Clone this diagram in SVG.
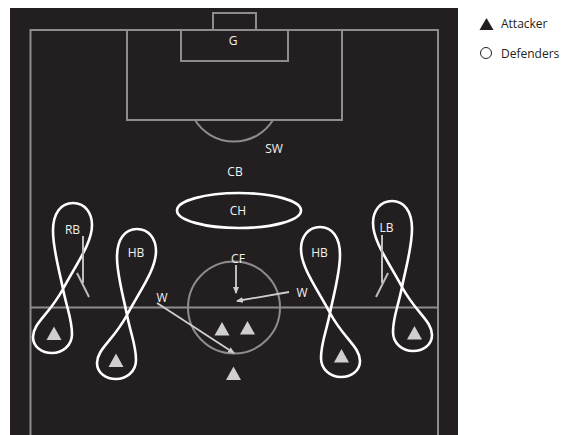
<svg xmlns="http://www.w3.org/2000/svg" width="563" height="435" viewBox="0 0 563 435">
  <defs>
    <style>
      .field { fill: none; stroke: #8d8d8d; stroke-width: 2; }
      .loop { fill: none; stroke: #ffffff; stroke-width: 2.6; }
      .lbl { font-family: "Open Sans", "Liberation Sans", sans-serif; font-size: 12px; fill: #f2f2f2; text-anchor: middle; }
      .leg { font-family: "Open Sans", "Liberation Sans", sans-serif; font-size: 12px; fill: #231f20; }
      .att { fill: #cfcfcf; }
      .conn { fill: none; stroke: #cfcfcf; stroke-width: 1.8; }
      .tick { fill: none; stroke: #bdbdbd; stroke-width: 2; }
    </style>
    <marker id="ah" markerWidth="8" markerHeight="8" refX="6" refY="3" orient="auto" markerUnits="userSpaceOnUse">
      <path d="M0,0 L7,3 L0,6 Z" fill="#cfcfcf"/>
    </marker>
    <path id="fig8" d="M 0,0 C -4,-20 -10,-40 -10,-58 C -10,-76 -2,-86 10,-86 C 22,-86 29,-76 29,-64 C 29,-46 14,-26 0,0 C -14,26 -30,34 -30,48 C -30,58 -21,64 -11,64 C -1,64 9,57 9,45 C 9,30 4,20 0,0 Z"/>
    <path id="tri" d="M 0,-7 L 7.5,6.5 L -7.5,6.5 Z"/>
  </defs>

  <rect x="10" y="8" width="448" height="430" fill="#231f20"/>

  <g id="pitch">
    <rect class="field" x="30.5" y="30" width="407.5" height="420"/>
    <rect class="field" x="127" y="30" width="215" height="90"/>
    <rect class="field" x="181" y="30" width="107" height="31"/>
    <rect class="field" x="213" y="13" width="43" height="17"/>
    <path class="field" d="M 195,120 A 46 46 0 0 0 273,120"/>
    <line class="field" x1="30.5" y1="307.5" x2="438" y2="307.5"/>
    <circle class="field" cx="234" cy="307.5" r="46"/>
  </g>

  <g id="node-G"><text class="lbl" x="233" y="44.5">G</text></g>
  <g id="node-SW"><text class="lbl" x="274" y="152.5">SW</text></g>
  <g id="node-CB"><text class="lbl" x="235" y="175.5">CB</text></g>
  <g id="node-CH">
    <ellipse class="loop" cx="239" cy="210.5" rx="62" ry="17.5"/>
    <text class="lbl" x="238" y="214.5">CH</text>
  </g>

  <g id="node-RB">
    <use href="#fig8" class="loop" transform="translate(63,289)"/>
    <text class="lbl" x="72.5" y="234">RB</text>
    <line class="tick" x1="83" y1="236" x2="83" y2="283"/>
    <line class="tick" x1="77" y1="273" x2="89" y2="297"/>
    <use href="#tri" class="att" x="54" y="333.5"/>
  </g>

  <g id="node-HB-left">
    <use href="#fig8" class="loop" transform="translate(127,315)"/>
    <text class="lbl" x="136" y="256.5">HB</text>
    <use href="#tri" class="att" x="116" y="360.5"/>
  </g>

  <g id="node-HB-right">
    <use href="#fig8" class="loop" transform="translate(330,313) scale(-1,1)"/>
    <text class="lbl" x="319.5" y="256.5">HB</text>
    <use href="#tri" class="att" x="341.5" y="356"/>
  </g>

  <g id="node-LB">
    <use href="#fig8" class="loop" transform="translate(402,287) scale(-1,1)"/>
    <text class="lbl" x="386.5" y="231.5">LB</text>
    <line class="tick" x1="382" y1="235" x2="382" y2="283"/>
    <line class="tick" x1="388" y1="273" x2="376" y2="297"/>
    <use href="#tri" class="att" x="414.5" y="333"/>
  </g>

  <g id="node-CF"><text class="lbl" x="238" y="262.5">CF</text></g>
  <g id="node-W-right"><text class="lbl" x="302" y="296.5">W</text></g>
  <g id="node-W-left"><text class="lbl" x="162" y="301.5">W</text></g>

  <g id="attackers">
    <use href="#tri" class="att" x="222" y="329"/>
    <use href="#tri" class="att" x="247.5" y="328"/>
    <use href="#tri" class="att" x="233.5" y="373.5"/>
  </g>

  <g id="connectors">
    <line class="conn" x1="236" y1="265" x2="236" y2="293" marker-end="url(#ah)"/>
    <line class="conn" x1="289" y1="292" x2="237" y2="301" marker-end="url(#ah)"/>
    <line class="conn" x1="157" y1="303" x2="234" y2="353" marker-end="url(#ah)"/>
  </g>

  <g id="legend">
    <path d="M 486.5,18 L 493.5,30 L 479.5,30 Z" fill="#231f20"/>
    <text class="leg" x="501" y="28">Attacker</text>
    <circle cx="486" cy="53" r="5.5" fill="none" stroke="#231f20" stroke-width="1"/>
    <text class="leg" x="501" y="57.5">Defenders</text>
  </g>
</svg>
